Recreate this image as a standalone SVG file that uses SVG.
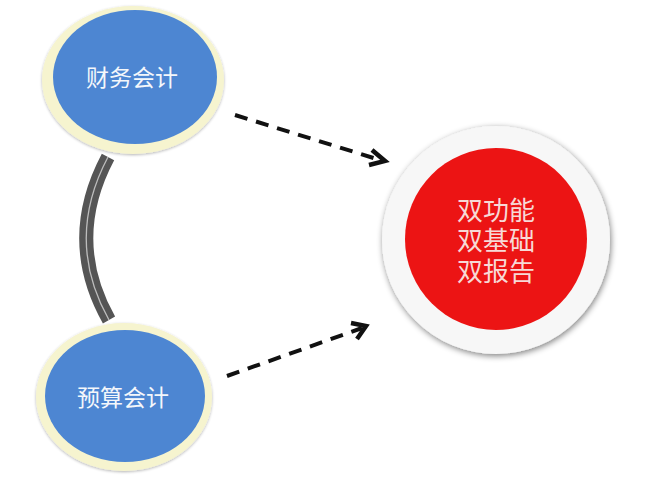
<svg xmlns="http://www.w3.org/2000/svg" width="650" height="481" viewBox="0 0 650 481">
<defs>
<style>
.ring{fill:#f6f4cf;}
.blue{fill:#4d86d2;}
.lbl{font-family:"Liberation Sans","Noto Sans CJK SC",sans-serif;fill:#f4f7fb;text-anchor:middle;dominant-baseline:central;}
.rl{font-family:"Liberation Sans","Noto Sans CJK SC",sans-serif;fill:#f7d9d6;font-size:26px;text-anchor:middle;dominant-baseline:central;}
.dash{fill:none;stroke:#111;stroke-width:4;stroke-dasharray:13 9;}
.head{fill:none;stroke:#111;stroke-width:4.5;stroke-linecap:butt;stroke-linejoin:miter;}
</style>
<filter id="sh" x="-20%" y="-20%" width="140%" height="140%">
<feGaussianBlur in="SourceAlpha" stdDeviation="3"/>
<feOffset dx="1" dy="2"/>
<feComponentTransfer><feFuncA type="linear" slope="0.5"/></feComponentTransfer>
<feMerge><feMergeNode/><feMergeNode in="SourceGraphic"/></feMerge>
</filter>
<filter id="sh2" x="-20%" y="-20%" width="140%" height="140%">
<feGaussianBlur in="SourceAlpha" stdDeviation="1.5"/>
<feOffset dx="0" dy="1"/>
<feComponentTransfer><feFuncA type="linear" slope="0.3"/></feComponentTransfer>
<feMerge><feMergeNode/><feMergeNode in="SourceGraphic"/></feMerge>
</filter>
</defs>
<rect width="650" height="481" fill="#ffffff"/>
<g id="connectors">
<path d="M108 157 Q64 240 109 320" fill="none" stroke="#555555" stroke-width="14"/>
<path d="M108 157 Q64 240 109 320" fill="none" stroke="#bdbdbd" stroke-width="1.3"/>
<path class="dash" d="M235 115 L380 160"/>
<path class="head" d="M372 150 L385 161 L369 165"/>
<path class="dash" d="M227 376 L362 328"/>
<path class="head" d="M351 323 L366 326 L357 339"/>
</g>
<g id="node-caiwu">
<ellipse class="ring" cx="133" cy="80" rx="91" ry="74" filter="url(#sh2)"/>
<ellipse class="blue" cx="135" cy="77" rx="82" ry="67"/>
<text class="lbl" x="132" y="78" font-size="23">财务会计</text>
</g>
<g id="node-yusuan">
<ellipse class="ring" cx="124" cy="397" rx="88" ry="74" filter="url(#sh2)"/>
<ellipse class="blue" cx="125" cy="396" rx="80" ry="66"/>
<text class="lbl" x="123" y="398" font-size="23">预算会计</text>
</g>
<g id="node-shuang">
<circle cx="496" cy="240" r="114" fill="#f7f7f7" filter="url(#sh)"/>
<circle cx="496" cy="239" r="91" fill="#ec1414"/>
<text class="rl" x="496" y="211">双功能</text>
<text class="rl" x="496" y="241">双基础</text>
<text class="rl" x="496" y="272">双报告</text>
</g>
</svg>
